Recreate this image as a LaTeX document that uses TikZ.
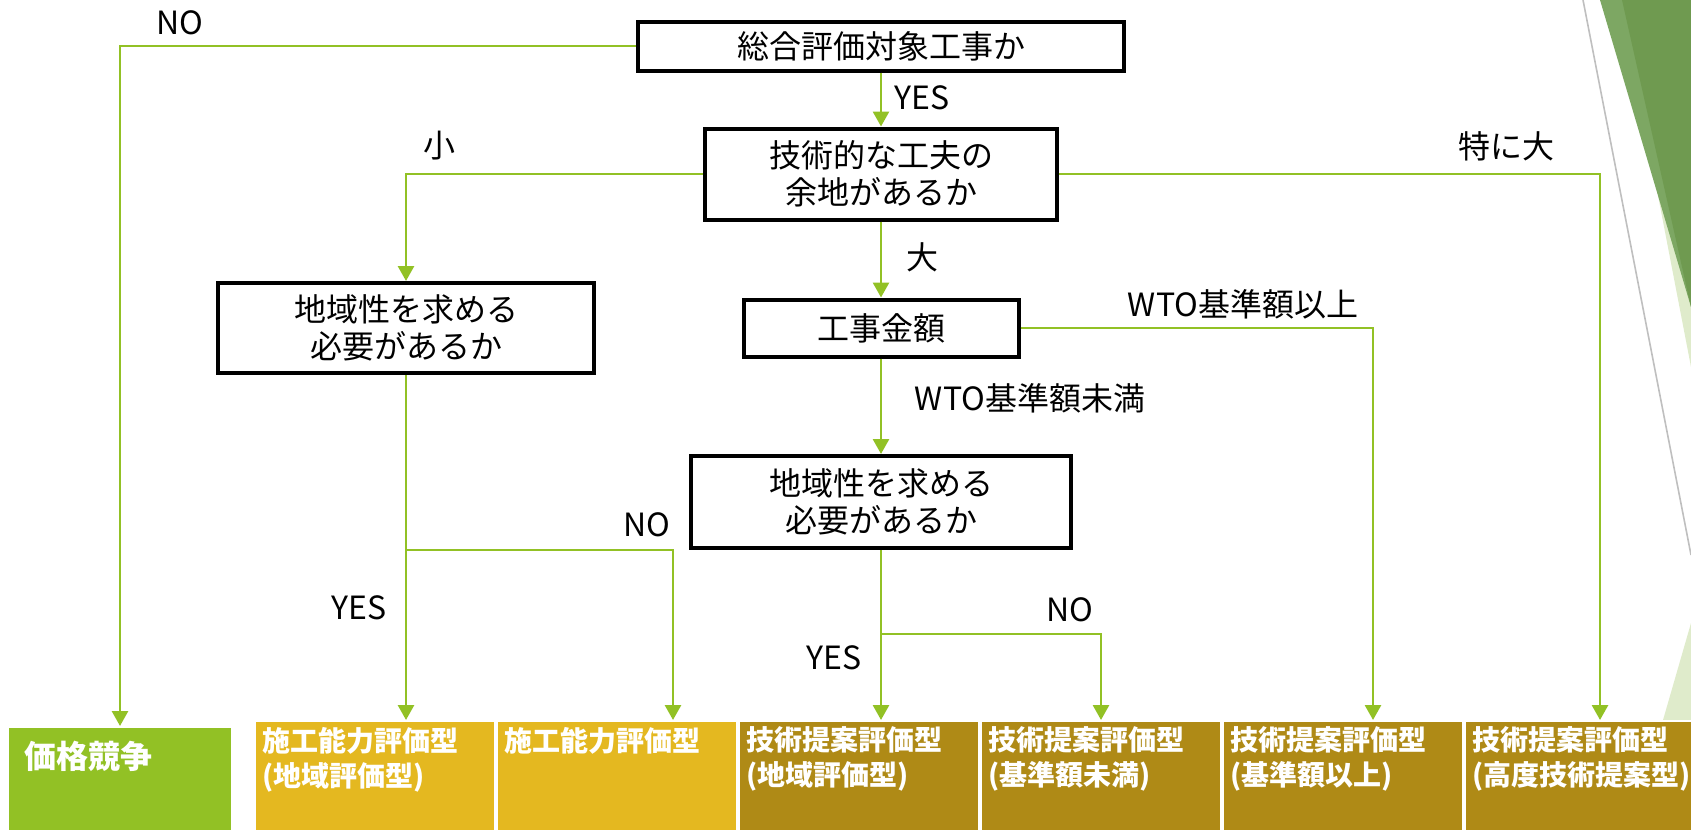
\documentclass[tikz,border=0pt]{standalone}
\usepackage{fontspec}
\setmainfont{Noto Sans CJK JP}
\usepackage{xcolor}
\usepackage{tikz}
\usetikzlibrary{arrows.meta}
\definecolor{flowgreen}{HTML}{92C125}
\definecolor{gold}{HTML}{E4B820}
\definecolor{darkgold}{HTML}{AF8A16}
\definecolor{leafdark}{HTML}{6F9A50}
\definecolor{leafmid}{HTML}{7DA763}
\definecolor{leafpale}{HTML}{DFEBCB}
\tikzstyle{qbox} = [draw=black, line width=2pt, rectangle, fill=white, align=center, inner sep=2pt, font=\fontsize{16}{18.5}\selectfont]
\tikzstyle{flow} = [draw=flowgreen, line width=1.4pt, -{Triangle[width=8pt,length=7.5pt]}]
\tikzstyle{lbl} = [inner sep=0pt, font=\fontsize{16}{18}\selectfont]
\tikzstyle{result} = [draw=white, line width=1pt, anchor=north west, text=white, inner sep=0pt, font=\bfseries\fontsize{14}{17.5}\selectfont]
\newcommand{\restext}[1]{\parbox[c][55pt][t]{120pt}{\leftskip=3.5pt\vspace*{3pt}#1}}

\begin{document}
\begin{tikzpicture}[x=0.5pt, y=-0.5pt]
\useasboundingbox (0,0) rectangle (1691,830);

% corner decoration
\draw[gray!50, line width=0.8pt] (1583,0) -- (1691,555);
\fill[leafpale] (1655,180) -- (1691,180) -- (1691,367) -- cycle;
\fill[leafmid] (1600,0) -- (1691,0) -- (1691,307) -- cycle;
\fill[leafdark] (1622,0) -- (1691,0) -- (1691,307) -- cycle;
\fill[leafpale] (1663,720) -- (1691,623) -- (1691,720) -- cycle;

% questions
\node[qbox, minimum width=243pt, minimum height=24.5pt] (q1) at (881,46) {総合評価対象工事か};
\node[qbox, minimum width=176pt, minimum height=45.5pt] (q2) at (881,174) {技術的な工夫の\\余地があるか};
\node[qbox, minimum width=188pt, minimum height=45pt] (q3) at (406,328) {地域性を求める\\必要があるか};
\node[qbox, minimum width=137.5pt, minimum height=28.5pt] (q4) at (881,328) {工事金額};
\node[qbox, minimum width=190pt, minimum height=46pt] (q5) at (881,502) {地域性を求める\\必要があるか};

% results
\node[result, fill=flowgreen, font=\bfseries\fontsize{16}{19}\selectfont] (price) at (7,726)
  {\parbox[c][52pt][t]{112pt}{\leftskip=8.5pt\vspace*{7pt}価格競争}};
\node[result, fill=gold] (t1) at (254,720) {\restext{施工能力評価型\\(地域評価型)}};
\node[result, fill=gold] (t2) at (496,720) {\restext{施工能力評価型}};
\node[result, fill=darkgold] (t3) at (738,720) {\restext{技術提案評価型\\(地域評価型)}};
\node[result, fill=darkgold] (t4) at (980,720) {\restext{技術提案評価型\\(基準額未満)}};
\node[result, fill=darkgold] (t5) at (1222,720) {\restext{技術提案評価型\\(基準額以上)}};
\node[result, fill=darkgold] (t6) at (1464,720) {\restext{技術提案評価型\\(高度技術提案型)}};

% connectors
\coordinate (j1) at (406,550);
\coordinate (j2) at (881,634);
\draw[flow] (q1.west) -| (price.north);
\draw[flow] (q1.south) -- (q2.north);
\draw[flow] (q2.west) -| (q3.north);
\draw[flow] (q2.east) -| ([xshift=7.5pt]t6.north);
\draw[flow] (q2.south) -- (q4.north);
\draw[flow] (q4.east) -| ([xshift=15pt]t5.north);
\draw[flow] (q4.south) -- (q5.north);
\draw[flow] (q3.south) -- (q3.south |- t1.north);
\draw[flow] (j1) -| ([xshift=28pt]t2.north);
\draw[flow] (q5.south) -- (q5.south |- t3.north);
\draw[flow] (j2) -| (t4.north);

% labels
\node[lbl] (lno1) at (180,23) {NO};
\node[lbl] (lyes1) at (922,98) {YES};
\node[lbl] (lsmall) at (439,146) {小};
\node[lbl] (lhuge) at (1506,146) {特に大};
\node[lbl] (lbig) at (922,257) {大};
\node[lbl] (lover) at (1243,304) {WTO基準額以上};
\node[lbl] (lunder) at (1030,398) {WTO基準額未満};
\node[lbl] (lno2) at (647,525) {NO};
\node[lbl] (lyes2) at (359,608) {YES};
\node[lbl] (lno3) at (1070,610) {NO};
\node[lbl] (lyes3) at (834,658) {YES};
\end{tikzpicture}
\end{document}
